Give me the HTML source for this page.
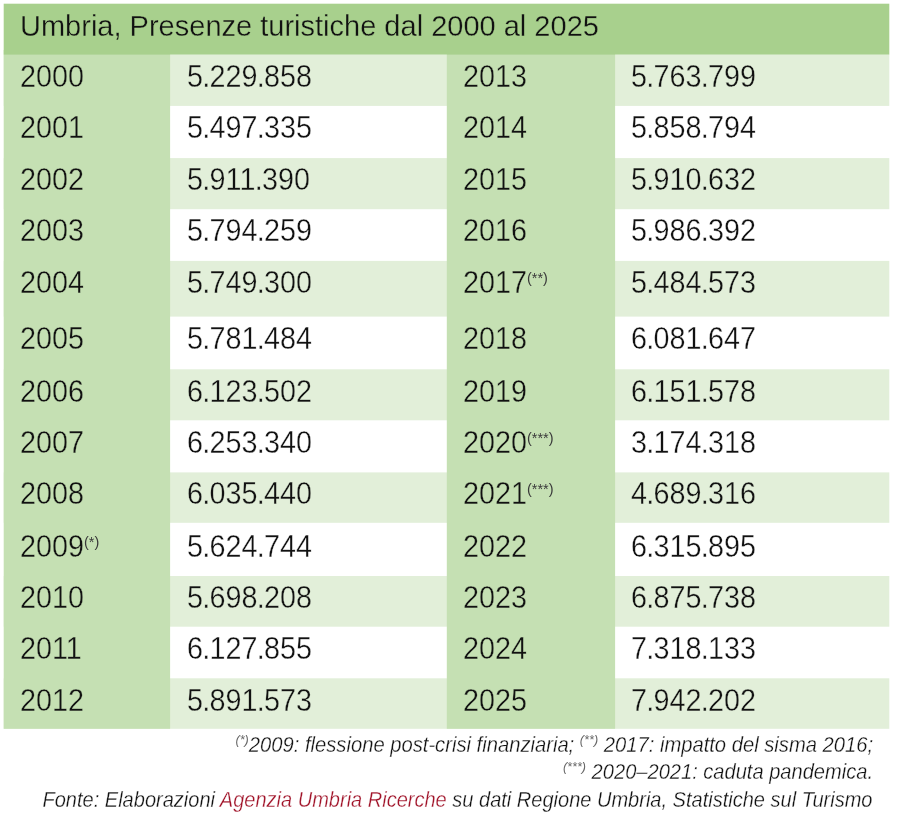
<!DOCTYPE html>
<html lang="it"><head><meta charset="utf-8"><title>Umbria, Presenze turistiche dal 2000 al 2025</title>
<style>
html,body{margin:0;padding:0;background:#fff;}
body{width:900px;height:815px;position:relative;overflow:hidden;font-family:"Liberation Sans",sans-serif;color:#111;}
.c{position:absolute;}
.t{position:absolute;white-space:nowrap;transform-origin:0 0;font-size:30.8px;line-height:36px;height:36px;}
.s{font-size:15.5px;color:#3a3a3a;position:relative;top:-10px;margin-left:0;-webkit-text-stroke:0;}
.f{position:absolute;right:27.3px;white-space:nowrap;font-style:italic;font-size:21.5px;line-height:24px;height:24px;transform-origin:100% 0;-webkit-text-stroke:0.3px #fff;color:#111;}
.f .s{font-size:13.5px;top:-8px;color:#666;font-style:italic;margin-left:0;}
.r{color:#a01228;}
.p{margin:0 -0.8px;}
</style></head><body>

<svg class="c" style="left:0;top:0" width="900" height="815" viewBox="0 0 900 815"><rect x="3.7" y="54.6" width="885.6" height="51.3" fill="#e2efd9"/><rect x="3.7" y="158.1" width="885.6" height="51.1" fill="#e2efd9"/><rect x="3.7" y="260.9" width="885.6" height="55.7" fill="#e2efd9"/><rect x="3.7" y="369.3" width="885.6" height="51.0" fill="#e2efd9"/><rect x="3.7" y="472.4" width="885.6" height="50.4" fill="#e2efd9"/><rect x="3.7" y="576.0" width="885.6" height="50.7" fill="#e2efd9"/><rect x="3.7" y="678.3" width="885.6" height="50.5" fill="#e2efd9"/><rect x="3.7" y="50.0" width="166.4" height="678.8" fill="#c5e0b3"/><rect x="446.8" y="50.0" width="168.3" height="678.8" fill="#c5e0b3"/><rect x="3.7" y="3.7" width="885.6" height="50.9" fill="#a8d08d"/></svg>
<div class="t" style="left:19.9px;top:8px;font-size:30.3px;transform:scaleX(0.9575);-webkit-text-stroke:0.35px #a8d08d">Umbria, Presenze turistiche dal 2000 al 2025</div>
<div class="t" style="left:19.5px;top:59px;transform:scaleX(0.934);-webkit-text-stroke:0.35px #c5e0b3">2000</div>
<div class="t" style="left:186.9px;top:59px;transform:scaleX(0.934);-webkit-text-stroke:0.35px #e2efd9">5<span class="p">.</span>229<span class="p">.</span>858</div>
<div class="t" style="left:462.5px;top:59px;transform:scaleX(0.934);-webkit-text-stroke:0.35px #c5e0b3">2013</div>
<div class="t" style="left:630.9px;top:59px;transform:scaleX(0.934);-webkit-text-stroke:0.35px #e2efd9">5<span class="p">.</span>763<span class="p">.</span>799</div>
<div class="t" style="left:19.5px;top:110px;transform:scaleX(0.934);-webkit-text-stroke:0.35px #c5e0b3">2001</div>
<div class="t" style="left:186.9px;top:110px;transform:scaleX(0.934);-webkit-text-stroke:0.35px #fff">5<span class="p">.</span>497<span class="p">.</span>335</div>
<div class="t" style="left:462.5px;top:110px;transform:scaleX(0.934);-webkit-text-stroke:0.35px #c5e0b3">2014</div>
<div class="t" style="left:630.9px;top:110px;transform:scaleX(0.934);-webkit-text-stroke:0.35px #fff">5<span class="p">.</span>858<span class="p">.</span>794</div>
<div class="t" style="left:19.5px;top:162px;transform:scaleX(0.934);-webkit-text-stroke:0.35px #c5e0b3">2002</div>
<div class="t" style="left:186.9px;top:162px;transform:scaleX(0.934);-webkit-text-stroke:0.35px #e2efd9">5<span class="p">.</span>911<span class="p">.</span>390</div>
<div class="t" style="left:462.5px;top:162px;transform:scaleX(0.934);-webkit-text-stroke:0.35px #c5e0b3">2015</div>
<div class="t" style="left:630.9px;top:162px;transform:scaleX(0.934);-webkit-text-stroke:0.35px #e2efd9">5<span class="p">.</span>910<span class="p">.</span>632</div>
<div class="t" style="left:19.5px;top:213px;transform:scaleX(0.934);-webkit-text-stroke:0.35px #c5e0b3">2003</div>
<div class="t" style="left:186.9px;top:213px;transform:scaleX(0.934);-webkit-text-stroke:0.35px #fff">5<span class="p">.</span>794<span class="p">.</span>259</div>
<div class="t" style="left:462.5px;top:213px;transform:scaleX(0.934);-webkit-text-stroke:0.35px #c5e0b3">2016</div>
<div class="t" style="left:630.9px;top:213px;transform:scaleX(0.934);-webkit-text-stroke:0.35px #fff">5<span class="p">.</span>986<span class="p">.</span>392</div>
<div class="t" style="left:19.5px;top:265px;transform:scaleX(0.934);-webkit-text-stroke:0.35px #c5e0b3">2004</div>
<div class="t" style="left:186.9px;top:265px;transform:scaleX(0.934);-webkit-text-stroke:0.35px #e2efd9">5<span class="p">.</span>749<span class="p">.</span>300</div>
<div class="t" style="left:462.5px;top:265px;transform:scaleX(0.934);-webkit-text-stroke:0.35px #c5e0b3">2017<span class="s">(**)</span></div>
<div class="t" style="left:630.9px;top:265px;transform:scaleX(0.934);-webkit-text-stroke:0.35px #e2efd9">5<span class="p">.</span>484<span class="p">.</span>573</div>
<div class="t" style="left:19.5px;top:321px;transform:scaleX(0.934);-webkit-text-stroke:0.35px #c5e0b3">2005</div>
<div class="t" style="left:186.9px;top:321px;transform:scaleX(0.934);-webkit-text-stroke:0.35px #fff">5<span class="p">.</span>781<span class="p">.</span>484</div>
<div class="t" style="left:462.5px;top:321px;transform:scaleX(0.934);-webkit-text-stroke:0.35px #c5e0b3">2018</div>
<div class="t" style="left:630.9px;top:321px;transform:scaleX(0.934);-webkit-text-stroke:0.35px #fff">6<span class="p">.</span>081<span class="p">.</span>647</div>
<div class="t" style="left:19.5px;top:374px;transform:scaleX(0.934);-webkit-text-stroke:0.35px #c5e0b3">2006</div>
<div class="t" style="left:186.9px;top:374px;transform:scaleX(0.934);-webkit-text-stroke:0.35px #e2efd9">6<span class="p">.</span>123<span class="p">.</span>502</div>
<div class="t" style="left:462.5px;top:374px;transform:scaleX(0.934);-webkit-text-stroke:0.35px #c5e0b3">2019</div>
<div class="t" style="left:630.9px;top:374px;transform:scaleX(0.934);-webkit-text-stroke:0.35px #e2efd9">6<span class="p">.</span>151<span class="p">.</span>578</div>
<div class="t" style="left:19.5px;top:425px;transform:scaleX(0.934);-webkit-text-stroke:0.35px #c5e0b3">2007</div>
<div class="t" style="left:186.9px;top:425px;transform:scaleX(0.934);-webkit-text-stroke:0.35px #fff">6<span class="p">.</span>253<span class="p">.</span>340</div>
<div class="t" style="left:462.5px;top:425px;transform:scaleX(0.934);-webkit-text-stroke:0.35px #c5e0b3">2020<span class="s">(***)</span></div>
<div class="t" style="left:630.9px;top:425px;transform:scaleX(0.934);-webkit-text-stroke:0.35px #fff">3<span class="p">.</span>174<span class="p">.</span>318</div>
<div class="t" style="left:19.5px;top:476px;transform:scaleX(0.934);-webkit-text-stroke:0.35px #c5e0b3">2008</div>
<div class="t" style="left:186.9px;top:476px;transform:scaleX(0.934);-webkit-text-stroke:0.35px #e2efd9">6<span class="p">.</span>035<span class="p">.</span>440</div>
<div class="t" style="left:462.5px;top:476px;transform:scaleX(0.934);-webkit-text-stroke:0.35px #c5e0b3">2021<span class="s">(***)</span></div>
<div class="t" style="left:630.9px;top:476px;transform:scaleX(0.934);-webkit-text-stroke:0.35px #e2efd9">4<span class="p">.</span>689<span class="p">.</span>316</div>
<div class="t" style="left:19.5px;top:529px;transform:scaleX(0.934);-webkit-text-stroke:0.35px #c5e0b3">2009<span class="s">(*)</span></div>
<div class="t" style="left:186.9px;top:529px;transform:scaleX(0.934);-webkit-text-stroke:0.35px #fff">5<span class="p">.</span>624<span class="p">.</span>744</div>
<div class="t" style="left:462.5px;top:529px;transform:scaleX(0.934);-webkit-text-stroke:0.35px #c5e0b3">2022</div>
<div class="t" style="left:630.9px;top:529px;transform:scaleX(0.934);-webkit-text-stroke:0.35px #fff">6<span class="p">.</span>315<span class="p">.</span>895</div>
<div class="t" style="left:19.5px;top:580px;transform:scaleX(0.934);-webkit-text-stroke:0.35px #c5e0b3">2010</div>
<div class="t" style="left:186.9px;top:580px;transform:scaleX(0.934);-webkit-text-stroke:0.35px #e2efd9">5<span class="p">.</span>698<span class="p">.</span>208</div>
<div class="t" style="left:462.5px;top:580px;transform:scaleX(0.934);-webkit-text-stroke:0.35px #c5e0b3">2023</div>
<div class="t" style="left:630.9px;top:580px;transform:scaleX(0.934);-webkit-text-stroke:0.35px #e2efd9">6<span class="p">.</span>875<span class="p">.</span>738</div>
<div class="t" style="left:19.5px;top:631px;transform:scaleX(0.934);-webkit-text-stroke:0.35px #c5e0b3">2011</div>
<div class="t" style="left:186.9px;top:631px;transform:scaleX(0.934);-webkit-text-stroke:0.35px #fff">6<span class="p">.</span>127<span class="p">.</span>855</div>
<div class="t" style="left:462.5px;top:631px;transform:scaleX(0.934);-webkit-text-stroke:0.35px #c5e0b3">2024</div>
<div class="t" style="left:630.9px;top:631px;transform:scaleX(0.934);-webkit-text-stroke:0.35px #fff">7<span class="p">.</span>318<span class="p">.</span>133</div>
<div class="t" style="left:19.5px;top:683px;transform:scaleX(0.934);-webkit-text-stroke:0.35px #c5e0b3">2012</div>
<div class="t" style="left:186.9px;top:683px;transform:scaleX(0.934);-webkit-text-stroke:0.35px #e2efd9">5<span class="p">.</span>891<span class="p">.</span>573</div>
<div class="t" style="left:462.5px;top:683px;transform:scaleX(0.934);-webkit-text-stroke:0.35px #c5e0b3">2025</div>
<div class="t" style="left:630.9px;top:683px;transform:scaleX(0.934);-webkit-text-stroke:0.35px #e2efd9">7<span class="p">.</span>942<span class="p">.</span>202</div>
<div class="f" style="top:732.95px;transform:scaleX(0.939)"><span class="s">(*)</span>2009: flessione post-crisi finanziaria; <span class="s">(**)</span> 2017: impatto del sisma 2016;</div>
<div class="f" style="top:760.35px;transform:scaleX(0.934)"><span class="s">(***)</span> 2020–2021: caduta pandemica.</div>
<div class="f" style="top:788.25px;transform:scaleX(0.931)">Fonte: Elaborazioni <span class="r">Agenzia Umbria Ricerche</span> su dati Regione Umbria, Statistiche sul Turismo</div>
</body></html>
